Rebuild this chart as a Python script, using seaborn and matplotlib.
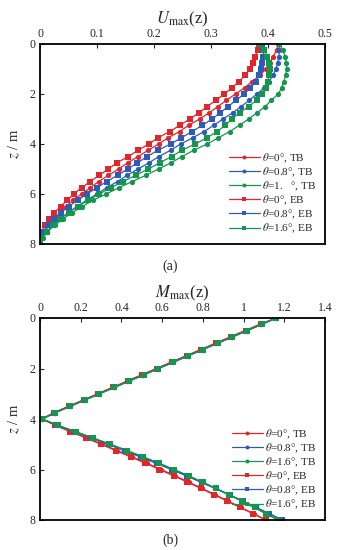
import pandas as pd
import matplotlib
matplotlib.use("Agg")
import matplotlib.pyplot as plt
import seaborn as sns

# depth stations (m)
z = [0.0, 0.25, 0.5, 0.75, 1.0, 1.25, 1.5, 1.75, 2.0, 2.25, 2.5, 2.75, 3.0,
     3.25, 3.5, 3.75, 4.0, 4.25, 4.5, 4.75, 5.0, 5.25, 5.5, 5.75, 6.0,
     6.25, 6.5, 6.75, 7.0, 7.25, 7.5, 7.75, 8.0]

# (a) Umax(z)
u_tb_00 = [0.418, 0.415, 0.409, 0.403, 0.396, 0.386, 0.372, 0.359, 0.343, 0.327, 0.312,
           0.297, 0.280, 0.261, 0.245, 0.225, 0.208, 0.190, 0.172, 0.154, 0.138, 0.120,
           0.103, 0.088, 0.073, 0.058, 0.046, 0.035, 0.025, 0.016, 0.008, 0.003, 0.0]
u_tb_08 = [0.420, 0.420, 0.419, 0.417, 0.414, 0.409, 0.402, 0.393, 0.381, 0.367, 0.353,
           0.338, 0.321, 0.305, 0.288, 0.268, 0.247, 0.229, 0.209, 0.191, 0.172, 0.153,
           0.136, 0.117, 0.100, 0.082, 0.065, 0.049, 0.035, 0.023, 0.012, 0.004, 0.0]
u_tb_16 = [0.420, 0.426, 0.430, 0.432, 0.433, 0.431, 0.428, 0.424, 0.418, 0.406, 0.395,
           0.381, 0.366, 0.350, 0.333, 0.313, 0.293, 0.270, 0.249, 0.230, 0.208, 0.186,
           0.162, 0.138, 0.116, 0.093, 0.074, 0.056, 0.040, 0.026, 0.013, 0.005, 0.0]
u_eb_00 = [0.385, 0.382, 0.377, 0.373, 0.368, 0.360, 0.349, 0.337, 0.323, 0.309, 0.293,
           0.279, 0.263, 0.245, 0.228, 0.207, 0.191, 0.172, 0.155, 0.135, 0.120, 0.104,
           0.088, 0.073, 0.059, 0.048, 0.036, 0.025, 0.016, 0.009, 0.003, 0.001, 0.0]
u_eb_08 = [0.390, 0.392, 0.392, 0.390, 0.387, 0.384, 0.379, 0.369, 0.358, 0.344, 0.330,
           0.316, 0.302, 0.285, 0.267, 0.248, 0.229, 0.207, 0.188, 0.171, 0.154, 0.136,
           0.117, 0.100, 0.082, 0.066, 0.050, 0.037, 0.025, 0.014, 0.006, 0.002, 0.0]
u_eb_16 = [0.386, 0.393, 0.399, 0.402, 0.403, 0.402, 0.400, 0.396, 0.389, 0.380, 0.366,
           0.350, 0.337, 0.325, 0.311, 0.293, 0.272, 0.249, 0.231, 0.210, 0.190, 0.168,
           0.146, 0.124, 0.104, 0.085, 0.066, 0.050, 0.035, 0.023, 0.012, 0.004, 0.0]

# (b) Mmax(z)
m_tb_00 = [1.160, 1.080, 1.006, 0.934, 0.861, 0.789, 0.716, 0.644, 0.571, 0.499, 0.427,
           0.355, 0.283, 0.211, 0.140, 0.068, 0.010, 0.077, 0.154, 0.230, 0.306, 0.380,
           0.453, 0.525, 0.595, 0.663, 0.731, 0.796, 0.861, 0.924, 0.986, 1.049, 1.110]
m_tb_08 = [1.160, 1.088, 1.015, 0.943, 0.870, 0.798, 0.725, 0.653, 0.580, 0.508, 0.435,
           0.363, 0.290, 0.218, 0.145, 0.073, 0.010, 0.084, 0.168, 0.251, 0.333, 0.414,
           0.492, 0.570, 0.645, 0.718, 0.790, 0.860, 0.928, 0.995, 1.060, 1.126, 1.190]
m_tb_16 = [1.160, 1.088, 1.015, 0.943, 0.870, 0.798, 0.725, 0.653, 0.580, 0.508, 0.435,
           0.363, 0.290, 0.218, 0.145, 0.073, 0.010, 0.087, 0.173, 0.258, 0.342, 0.424,
           0.504, 0.581, 0.655, 0.727, 0.796, 0.862, 0.927, 0.990, 1.051, 1.108, 1.170]
m_eb_00 = [1.160, 1.084, 1.010, 0.938, 0.865, 0.793, 0.720, 0.648, 0.575, 0.503, 0.431,
           0.359, 0.287, 0.214, 0.142, 0.070, 0.010, 0.074, 0.149, 0.224, 0.299, 0.372,
           0.445, 0.517, 0.587, 0.656, 0.724, 0.790, 0.855, 0.919, 0.982, 1.046, 1.110]
m_eb_08 = [1.160, 1.090, 1.017, 0.945, 0.872, 0.800, 0.727, 0.655, 0.582, 0.510, 0.437,
           0.365, 0.292, 0.220, 0.147, 0.075, 0.010, 0.085, 0.170, 0.254, 0.337, 0.418,
           0.497, 0.575, 0.650, 0.722, 0.794, 0.864, 0.931, 0.997, 1.061, 1.127, 1.190]
m_eb_16 = [1.160, 1.090, 1.017, 0.945, 0.872, 0.800, 0.727, 0.655, 0.582, 0.510, 0.437,
           0.365, 0.292, 0.220, 0.147, 0.075, 0.010, 0.088, 0.175, 0.261, 0.346, 0.428,
           0.508, 0.585, 0.659, 0.731, 0.800, 0.866, 0.930, 0.993, 1.054, 1.111, 1.170]

RED, BLUE, GREEN = "#e0262a", "#2b5bbd", "#14964c"

sns.set_style("ticks")
plt.rcParams["font.family"] = ["Liberation Serif", "DejaVu Serif"]
plt.rcParams["mathtext.fontset"] = "stix"

fig = plt.figure(figsize=(3.4, 5.5), dpi=100)
ax1 = fig.add_axes([40 / 340, 306 / 550, 285 / 340, 200 / 550])
ax2 = fig.add_axes([40 / 340, 30 / 550, 285 / 340, 202 / 550])


def draw(ax, series, xlim, xticks, xfmt, xlabel):
    for vals, color, marker, label in series:
        df = pd.DataFrame({"x": vals, "z": z})
        sns.lineplot(data=df, x="x", y="z", ax=ax, color=color, marker=marker,
                     markersize=3.8, markeredgewidth=0, linewidth=0.9,
                     sort=False, estimator=None, orient="y", label=label)
    ax.set_xlim(*xlim)
    ax.set_ylim(8, 0)
    ax.set_xticks(xticks)
    ax.set_xticklabels([xfmt(t) for t in xticks])
    ax.set_yticks([0, 2, 4, 6, 8])
    ax.xaxis.tick_top()
    ax.xaxis.set_label_position("top")
    ax.tick_params(direction="in", labelsize=8.5, length=3, width=0.8, pad=3,
                   top=True, bottom=False, left=True, right=False)
    ax.set_xlabel(xlabel, fontsize=12, labelpad=3)
    ax.set_ylabel(r"$z$ / m", fontsize=10.5, labelpad=6)
    for sp in ax.spines.values():
        sp.set_visible(True)
        sp.set_linewidth(1.3)
        sp.set_color("black")
    ax.legend(loc="lower right", frameon=False, fontsize=8, handlelength=2.8,
              labelspacing=0.06, handletextpad=0.2, borderaxespad=0.6,
              borderpad=0.2, numpoints=1, markerscale=0.75)


labels_a = [r"$\theta$=0°, TB", r"$\theta$=0.8°, TB", r"$\theta$=1.   °, TB",
            r"$\theta$=0°, EB", r"$\theta$=0.8°, EB", r"$\theta$=1.6°, EB"]
labels_b = [r"$\theta$=0°, TB", r"$\theta$=0.8°, TB", r"$\theta$=1.6°, TB",
            r"$\theta$=0°, EB", r"$\theta$=0.8°, EB", r"$\theta$=1.6°, EB"]

series_a = [(u_tb_00, RED, "o", labels_a[0]), (u_tb_08, BLUE, "o", labels_a[1]),
            (u_tb_16, GREEN, "o", labels_a[2]), (u_eb_00, RED, "s", labels_a[3]),
            (u_eb_08, BLUE, "s", labels_a[4]), (u_eb_16, GREEN, "s", labels_a[5])]
series_b = [(m_tb_00, RED, "o", labels_b[0]), (m_tb_08, BLUE, "o", labels_b[1]),
            (m_tb_16, GREEN, "o", labels_b[2]), (m_eb_00, RED, "s", labels_b[3]),
            (m_eb_08, BLUE, "s", labels_b[4]), (m_eb_16, GREEN, "s", labels_b[5])]

draw(ax1, series_a, (0, 0.5), [0, 0.1, 0.2, 0.3, 0.4, 0.5],
     lambda t: "0" if t == 0 else f"{t:g}", r"$U_{\rm max}$(z)")
draw(ax2, series_b, (0, 1.4), [0, 0.2, 0.4, 0.6, 0.8, 1.0, 1.2, 1.4],
     lambda t: f"{t:g}", r"$M_{\rm max}$(z)")

fig.text(0.5, 1 - 266 / 550, "(a)", ha="center", va="center", fontsize=10)
fig.text(0.5, 1 - 540 / 550, "(b)", ha="center", va="center", fontsize=10)

fig.savefig("out.png", dpi=100)
